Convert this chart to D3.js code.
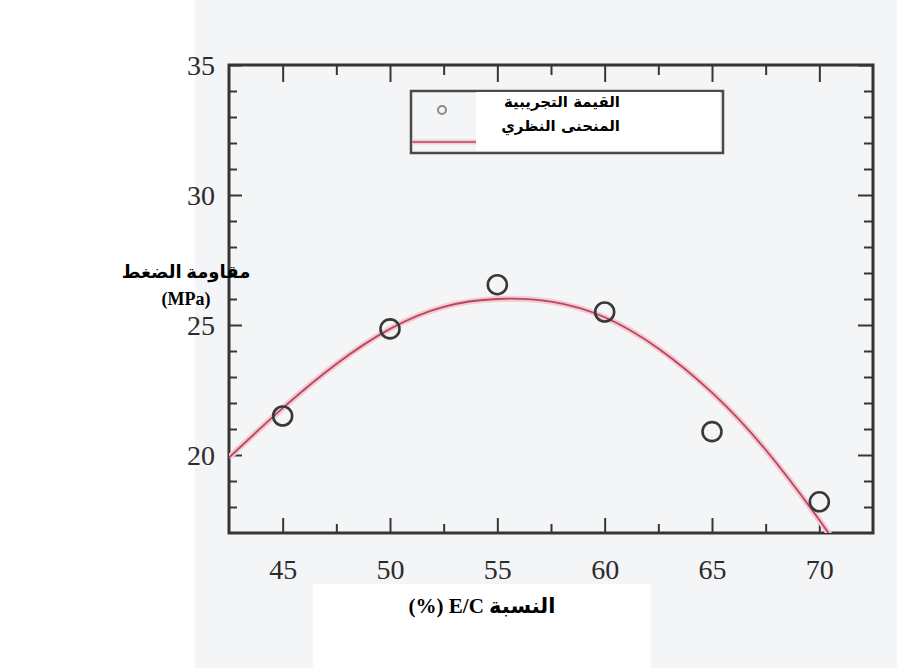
<!DOCTYPE html>
<html lang="ar">
    <head>
        <meta charset="utf-8">
        <title>E/C</title>
        <script type="text/javascript" src="https://d3js.org/d3.v7.min.js"></script>
        <style type="text/css">
            body{ margin:0; background:#ffffff; }
            .tick line{ stroke:#363636; stroke-width:2px; }
            .tick text{ font-family:"Liberation Serif", serif; font-size:28px; fill:#2b2b2b; }
            .lbl{ font-family:"Liberation Serif","DejaVu Sans", serif; font-weight:bold; fill:#000; }
        </style>
    </head>
    <body>
        <svg id="chart" width="897" height="668"></svg>
        <script type="text/javascript">
        //data
        const ecRatio  = [45, 50, 55, 60, 65, 70];
        const strength = [21.5, 24.85, 26.55, 25.5, 20.9, 18.2];
        //theoretical curve, points
        const curveX = [42.5, 45, 47.5, 50, 52.5, 55, 57.5, 60, 62.5, 65, 67.5, 70, 70.8];
        const curveY = [19.9, 21.8, 23.5, 24.85, 25.7, 26.0, 25.9, 25.3, 24.1, 22.4, 20.2, 17.5, 16.5];
        const xMajor = [45, 50, 55, 60, 65, 70];
        const xMinor = [47.5, 52.5, 57.5, 62.5, 67.5];
        const yMajor = [20, 25, 30, 35];
        const yMinor = [18, 19, 21, 22, 23, 24, 26, 27, 28, 29, 31, 32, 33, 34];
        const legendLabels = ["القيمة التجريبية", "المنحنى النظري"];
        const yTitle = ["مقاومة الضغط", "(MPa)"];
        const xTitle = "النسبة E/C (%)";

        const svg = d3.select("#chart");
        const x = d3.scaleLinear().domain([42.5, 72.5]).range([229, 873]);
        const y = d3.scaleLinear().domain([17, 35]).range([533, 65]);

        //scanned paper background
        svg.append("rect").attr("x", 195).attr("y", 0).attr("width", 702).attr("height", 668)
           .attr("fill", "#f4f5f7");

        svg.append("defs").append("clipPath").attr("id", "plot")
           .append("rect").attr("x", x(42.5)).attr("y", y(35))
           .attr("width", x(72.5) - x(42.5)).attr("height", y(17) - y(35));

        //axes, ticks pointing inward
        const gBottom = svg.append("g").attr("transform", `translate(0,${y(17)})`);
        gBottom.call(d3.axisBottom(x).tickValues(xMajor).tickSize(-15).tickPadding(36).tickFormat(d3.format("d")));
        gBottom.append("g").call(d3.axisBottom(x).tickValues(xMinor).tickSize(-9).tickFormat(""));
        const gTop = svg.append("g").attr("transform", `translate(0,${y(35)})`);
        gTop.call(d3.axisTop(x).tickValues(xMajor).tickSize(-17).tickFormat(""));
        gTop.append("g").call(d3.axisTop(x).tickValues(xMinor).tickSize(-10).tickFormat(""));
        const gLeft = svg.append("g").attr("transform", `translate(${x(42.5)},0)`);
        gLeft.call(d3.axisLeft(y).tickValues(yMajor).tickSize(-13).tickPadding(14).tickFormat(d3.format("d")));
        gLeft.append("g").call(d3.axisLeft(y).tickValues(yMinor).tickSize(-8).tickFormat(""));
        const gRight = svg.append("g").attr("transform", `translate(${x(72.5)},0)`);
        gRight.call(d3.axisRight(y).tickValues(yMajor).tickSize(-15).tickFormat(""));
        gRight.append("g").call(d3.axisRight(y).tickValues(yMinor).tickSize(-9).tickFormat(""));
        svg.selectAll(".domain").remove();
        svg.selectAll(".tick text").attr("dy", null).attr("dominant-baseline", "central");

        //frame
        svg.append("rect").attr("x", x(42.5)).attr("y", y(35))
           .attr("width", x(72.5) - x(42.5)).attr("height", y(17) - y(35))
           .attr("fill", "none").attr("stroke", "#353535").attr("stroke-width", 3);

        //theoretical curve
        const line = d3.line().x(d => x(d[0])).y(d => y(d[1])).curve(d3.curveNatural);
        const pts = d3.zip(curveX, curveY);
        const plot = svg.append("g").attr("clip-path", "url(#plot)");
        plot.append("path").attr("d", line(pts)).attr("fill", "none")
            .attr("stroke", "#f4c9d1").attr("stroke-width", 6);
        plot.append("path").attr("d", line(pts)).attr("fill", "none")
            .attr("stroke", "#b5475f").attr("stroke-width", 1.8);

        //measured values
        svg.selectAll("circle.pt")
           .data(d3.zip(ecRatio, strength))
           .join("circle")
           .attr("class", "pt")
           .attr("cx", d => x(d[0]))
           .attr("cy", d => y(d[1]))
           .attr("r", 9.5)
           .attr("fill", "none")
           .attr("stroke", "#383838")
           .attr("stroke-width", 2.6);

        //legend
        const lg = svg.append("g");
        lg.append("rect").attr("x", 411).attr("y", 91).attr("width", 312).attr("height", 62)
          .attr("fill", "#f4f5f7").attr("stroke", "#4a4a4a").attr("stroke-width", 2.5);
        lg.append("circle").attr("cx", 442).attr("cy", 110).attr("r", 4)
          .attr("fill", "none").attr("stroke", "#8a8a8a").attr("stroke-width", 2);
        lg.append("line").attr("x1", 412).attr("x2", 480).attr("y1", 142).attr("y2", 142)
          .attr("stroke", "#f4c9d1").attr("stroke-width", 5);
        lg.append("line").attr("x1", 412).attr("x2", 480).attr("y1", 142).attr("y2", 142)
          .attr("stroke", "#b5475f").attr("stroke-width", 1.6);
        lg.append("rect").attr("x", 476).attr("y", 92).attr("width", 244).attr("height", 59)
          .attr("fill", "#ffffff");
        lg.selectAll("text")
          .data(legendLabels)
          .join("text")
          .attr("class", "lbl")
          .attr("x", 620)
          .attr("y", (d, i) => 102 + i * 24)
          .attr("text-anchor", "end")
          .attr("dominant-baseline", "central")
          .style("font-family", "'DejaVu Sans', sans-serif")
          .style("font-size", "15px")
          .text(d => d);

        //y title
        svg.selectAll("text.yt")
           .data(yTitle)
           .join("text")
           .attr("class", "lbl yt")
           .attr("x", 186)
           .attr("y", (d, i) => 272 + i * 27)
           .attr("text-anchor", "middle")
           .attr("dominant-baseline", "central")
           .style("font-size", "18px")
           .text(d => d);

        //x title on a white patch
        svg.append("rect").attr("x", 313).attr("y", 584).attr("width", 338).attr("height", 84)
           .attr("fill", "#ffffff");
        svg.append("text").attr("class", "lbl")
           .attr("x", 482).attr("y", 606)
           .attr("text-anchor", "middle")
           .attr("dominant-baseline", "central")
           .style("direction", "rtl")
           .style("font-size", "21px")
           .text(xTitle);
        </script>
    </body>
</html>
